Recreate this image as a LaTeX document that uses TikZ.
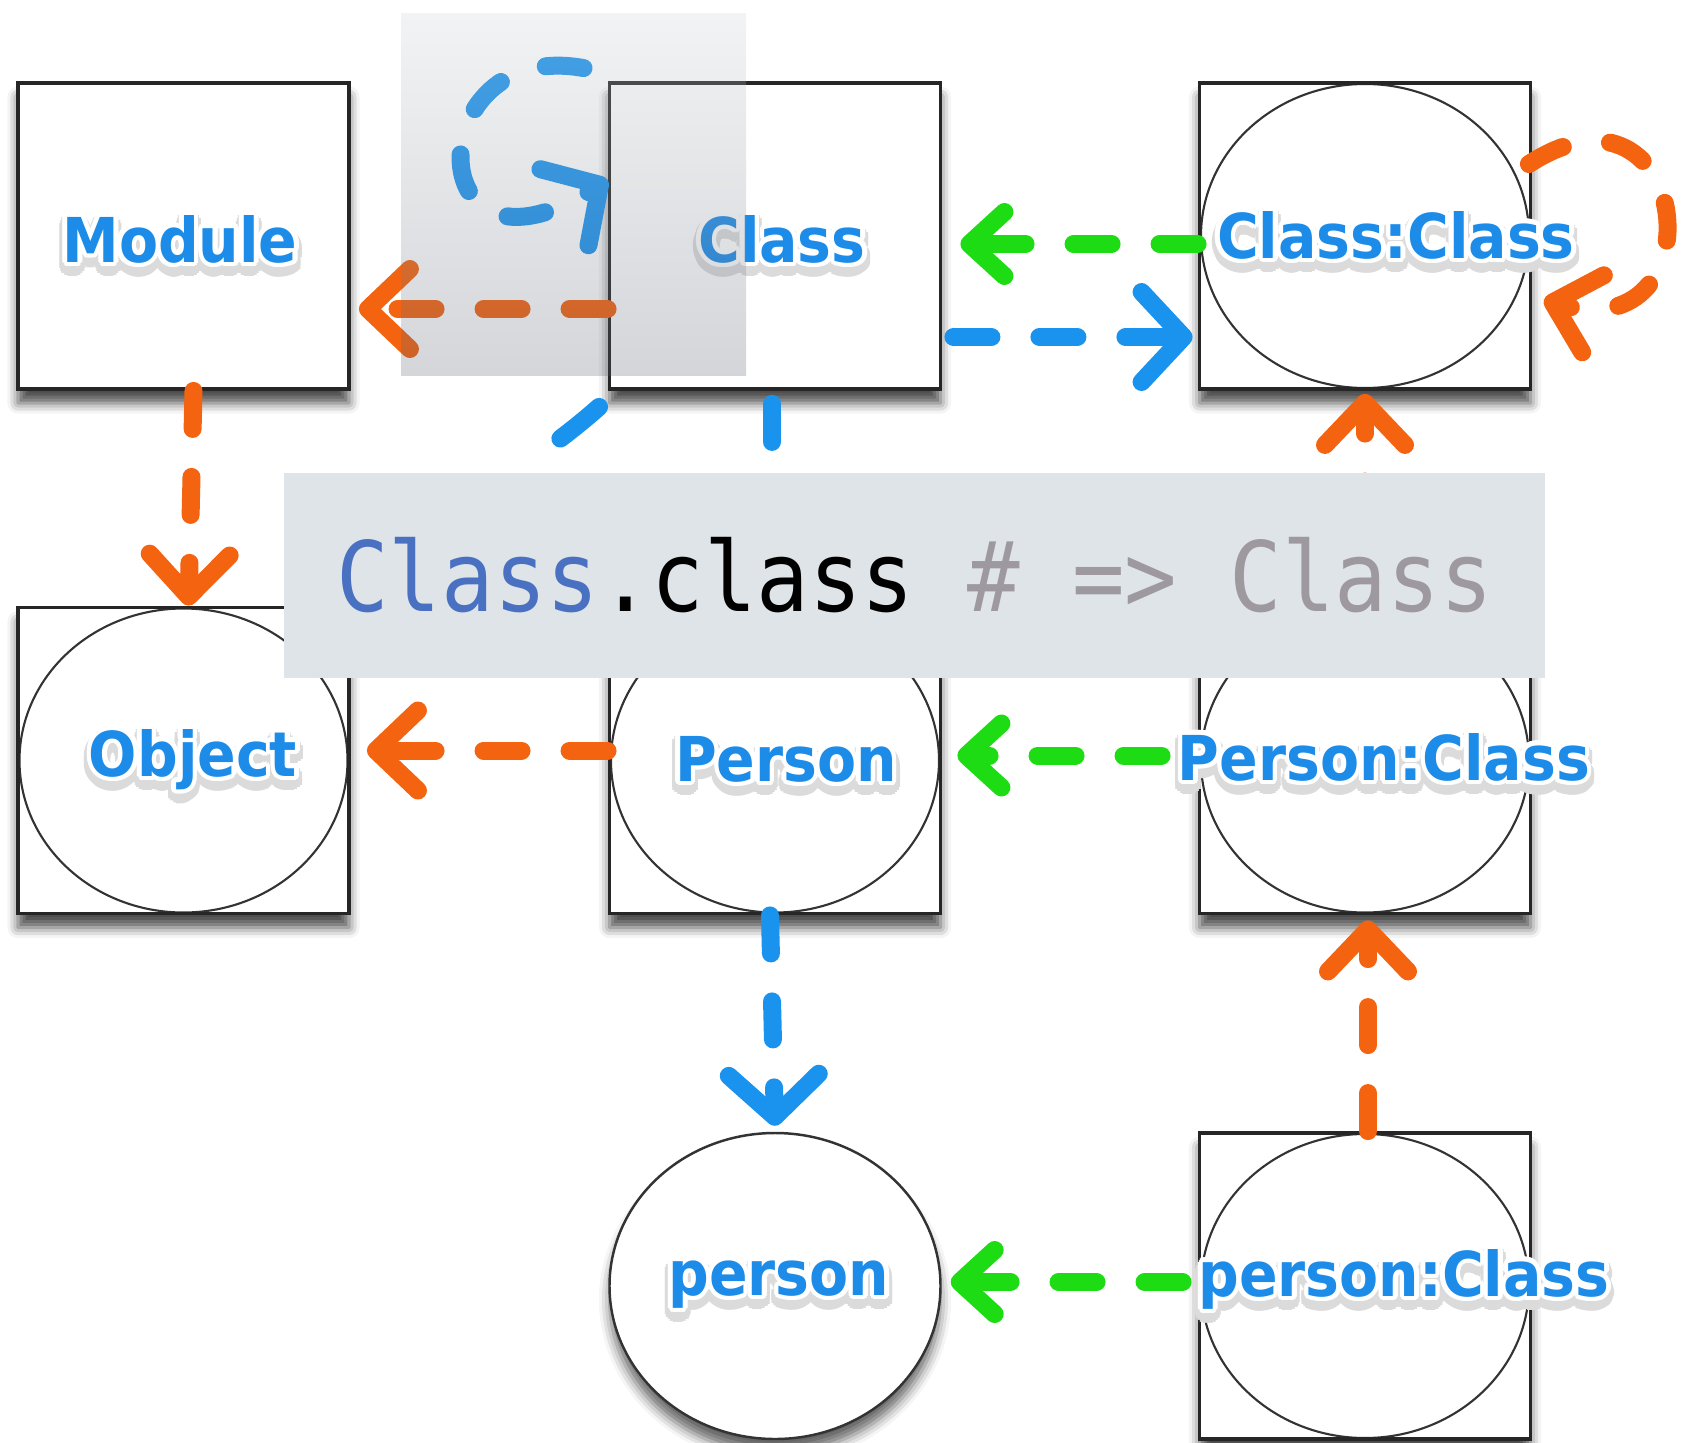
\documentclass[tikz,border=0pt]{standalone}
\usepackage{fontspec}
\usepackage[copies]{contour}
\usetikzlibrary{arrows.meta, shapes.geometric, shadows.blur}
\newfontfamily\lblfont{DejaVu Sans}[FakeStretch=0.92]
\newfontfamily\codefont{DejaVu Sans Mono}[FakeStretch=0.9]
\definecolor{linkorange}{HTML}{F4630F}
\definecolor{linkgreen}{HTML}{1EDC14}
\definecolor{linkblue}{HTML}{1A93EE}
\definecolor{lblblue}{HTML}{1C8CE8}
\definecolor{codeblue}{HTML}{4A70C2}
\definecolor{codegray}{HTML}{9E999E}
\definecolor{bannerfill}{HTML}{DEE4E8}
\definecolor{shadetop}{RGB}{203,207,211}
\definecolor{shadebot}{RGB}{87,91,107}
\contourlength{1.3pt}
% white halo plus a soft drop under the label text
\newcommand\halo[1]{\rlap{\raisebox{-1.8pt}{\contourlength{2.2pt}\contour{black!14}{\textcolor{black!14}{#1}}}}\contour{white}{#1}}

\begin{document}
\begin{tikzpicture}[
    every node/.style={inner sep=0pt},
    classbox/.style={draw=black!85, line width=1.1pt, fill=white, minimum width=3.31cm, minimum height=3.06cm,
        blur shadow={shadow xshift=0pt, shadow yshift=-4pt, shadow blur radius=3pt, shadow opacity=70}},
    objbox/.style={classbox, path picture={\draw[black!80, line width=0.6pt] (path picture bounding box.center) ellipse [x radius=1.64cm, y radius=1.52cm];}},
    instance/.style={ellipse, draw=black!80, line width=0.7pt, fill=white, minimum width=3.31cm, minimum height=3.06cm,
        blur shadow={shadow xshift=0pt, shadow yshift=-4pt, shadow blur radius=3pt, shadow opacity=60}},
    lbl/.style={anchor=base, text=lblblue, font={\lblfont\bfseries\fontsize{17.6}{20}\selectfont}},
    link/.style={line width=0.18cm, line cap=round, dash pattern=on 0.38cm off 0.48cm},
    superof/.style={link, draw=linkorange, -{Straight Barb[round, length=0.42cm, width=0.8cm]}},
    classof/.style={link, draw=linkblue, -{Straight Barb[round, length=0.42cm, width=0.9cm]}},
    metaof/.style={link, draw=linkgreen, -{Straight Barb[round, length=0.35cm, width=0.64cm]}}
]
    \useasboundingbox (0,0) rectangle (16.82,-14.43);

    % Boxes
    \node[classbox] (module) at (1.835,-2.36) {};
    \node[classbox] (class) at (7.75,-2.36) {};
    \node[objbox] (classmeta) at (13.65,-2.36) {};
    \node[objbox] (object) at (1.835,-7.605) {};
    \node[objbox] (person) at (7.75,-7.605) {};
    \node[objbox] (personmeta) at (13.65,-7.605) {};
    \node[instance] (inst) at (7.75,-12.86) {};
    \node[objbox] (instmeta) at (13.65,-12.86) {};

    % Superclass links
    \draw[superof] ([yshift=-0.73cm]class.west) -- ([xshift=0.08cm,yshift=-0.73cm]module.east);
    \draw[superof] ([xshift=0.1cm]module.south) -- ([xshift=0.05cm]object.north);
    \draw[superof] ([yshift=0.1cm]person.west) -- ([xshift=0.16cm,yshift=0.1cm]object.east);
    \draw[superof] ([xshift=0.03cm]instmeta.north) -- ([xshift=0.03cm,yshift=-0.05cm]personmeta.south);
    \draw[superof] (personmeta.north) -- ([yshift=-0.03cm]classmeta.south);
    \draw[superof] ([shift={(-0.035,0.72)}]classmeta.east) .. controls +(1.63,1.05) and +(1.78,-0.5) .. ([shift={(0.115,-0.64)}]classmeta.east);

    % Class links
    \draw[classof] ([shift={(-0.24,0.13)}]class.north west) .. controls +(-1.65,0.3) and +(-1.9,-1.2) .. ([yshift=0.56cm]class.west);
    \draw[classof] ([xshift=0.11cm,yshift=-1.01cm]class.east) -- ([xshift=-0.05cm,yshift=-1.01cm]classmeta.west);
    \draw[classof] ([shift={(-0.03,-0.13)}]class.south) -- ([xshift=-0.03cm]person.north);
    \draw[classof, dash pattern=on 0.5cm off 0.9cm] ([shift={(-0.085,-0.16)}]class.south west) .. controls +(-0.9,-0.8) and +(0.3,0.6) .. (object.north east);
    \draw[classof] ([xshift=-0.05cm]person.south) -- ([yshift=0.06cm]inst.north);

    % Metaclass links
    \draw[metaof] ([yshift=-0.08cm]classmeta.west) -- ([xshift=0.18cm,yshift=-0.08cm]class.east);
    \draw[metaof] ([xshift=-0.36cm,yshift=0.05cm]personmeta.west) -- ([xshift=0.15cm,yshift=0.05cm]person.east);
    \draw[metaof] ([xshift=-0.15cm,yshift=0.04cm]instmeta.west) -- ([xshift=0.09cm,yshift=0.04cm]inst.east);

    % Labels
    \node[lbl] (moduleT) at (1.80,-2.62) {\halo{Module}};
    \node[lbl] (classT) at (7.82,-2.62) {\halo{Class}};
    \node[lbl] (classmetaT) at (13.96,-2.58) {\halo{Class:Class}};
    \node[lbl] (objectT) at (1.93,-7.76) {\halo{Object}};
    \node[lbl] (personT) at (7.86,-7.81) {\halo{Person}};
    \node[lbl] (personmetaT) at (13.84,-7.80) {\halo{Person:Class}};
    \node[lbl] (instT) at (7.79,-12.95) {\halo{person}};
    \node[lbl] (instmetaT) at (14.04,-12.96) {\halo{person:Class}};

    % Shaded pane over the loop
    \shade[top color=shadetop, bottom color=shadebot, fill opacity=0.25] (4.01,-0.13) rectangle (7.46,-3.75);

    % Code banner
    \node[fill=bannerfill, minimum width=12.61cm, minimum height=2.05cm, font={\codefont\fontsize{27.6}{30}\selectfont}] (snippet) at (9.145,-5.755)
        {\textcolor{codeblue}{Class}.class \textcolor{codegray}{\# => Class}};
\end{tikzpicture}
\end{document}
